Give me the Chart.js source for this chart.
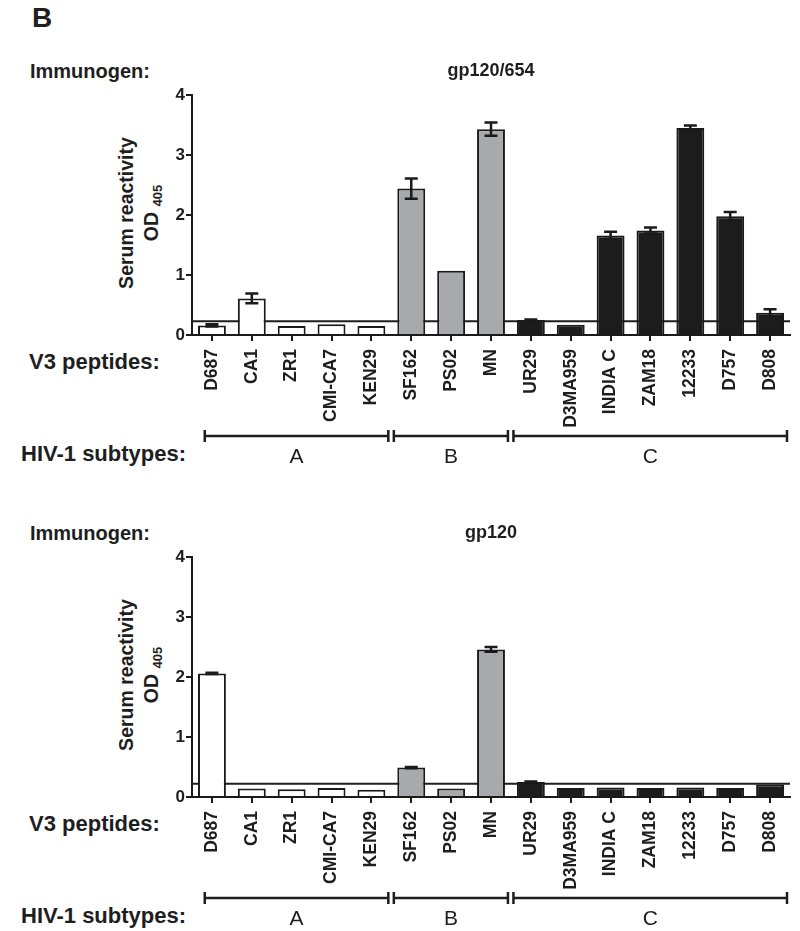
<!DOCTYPE html>
<html><head><meta charset="utf-8">
<script src="https://cdn.jsdelivr.net/npm/chart.js@4/dist/chart.umd.min.js"></script>
<style>
html,body{margin:0;padding:0;background:#fff;}
body{width:800px;height:931px;position:relative;overflow:hidden;font-family:"Liberation Sans",Arial,sans-serif;color:#1e1e1e;}
.lbl{position:absolute;font-weight:bold;line-height:1;white-space:nowrap;transform:translateY(-50%);}
canvas{position:absolute;left:0;}
.ytitle{position:absolute;font-weight:bold;font-size:19.5px;line-height:25px;white-space:nowrap;text-align:center;transform:translate(-50%,-50%) rotate(-90deg);}
.ytitle sub{font-size:13px;vertical-align:baseline;position:relative;top:4px;}
</style></head>
<body>
<div class="lbl" style="left:32px;top:18px;font-size:28px">B</div>

<div class="lbl" style="left:30px;top:71px;font-size:20px">Immunogen:</div>
<div class="ytitle" style="left:140px;top:213px">Serum reactivity<br>OD <sub>405</sub></div>
<div class="lbl" style="left:29px;top:362px;font-size:22px">V3 peptides:</div>
<div class="lbl" style="left:21px;top:454px;font-size:22px">HIV-1 subtypes:</div>
<canvas id="c1" width="800" height="469" style="top:0px"></canvas>

<div class="lbl" style="left:30px;top:533px;font-size:20px">Immunogen:</div>
<div class="ytitle" style="left:140px;top:675px">Serum reactivity<br>OD <sub>405</sub></div>
<div class="lbl" style="left:29px;top:824px;font-size:22px">V3 peptides:</div>
<div class="lbl" style="left:21px;top:916px;font-size:22px">HIV-1 subtypes:</div>
<canvas id="c2" width="800" height="469" style="top:462px"></canvas>

<script>
// ---- data ----
const peptides = ['D687','CA1','ZR1','CMI-CA7','KEN29','SF162','PS02','MN','UR29','D3MA959','INDIA C','ZAM18','12233','D757','D808'];
const subtypes = ['A','A','A','A','A','B','B','B','C','C','C','C','C','C','C'];
const groupLabels = ['A','B','C'];
const titles = ['gp120/654','gp120'];
const gp120_654 = [0.16,0.61,0.15,0.18,0.15,2.44,1.07,3.43,0.25,0.17,1.66,1.74,3.45,1.98,0.37];
const gp120_654_err = [0.02,0.08,0,0,0,0.17,0,0.11,0.01,0,0.06,0.05,0.04,0.07,0.06];
const gp120 = [2.06,0.14,0.13,0.15,0.12,0.49,0.14,2.46,0.25,0.15,0.16,0.15,0.16,0.15,0.21];
const gp120_err = [0.01,0,0,0,0,0.01,0,0.04,0.01,0,0,0,0,0,0];
const cutoffs = [0.23,0.22];
const yMin = 0, yMax = 4, yStep = 1;

// ---- styles ----
const FONT = '"Liberation Sans", Arial, sans-serif';
const INK = '#1e1e1e';
const fillBySubtype = {A:'#ffffff', B:'#a8a9ad', C:'#1c1c1c'};

function makePanel(id, title, values, errs, cutoff){
  const cutoffPlugin = {
    id:'cutoff',
    beforeDatasetsDraw(chart){
      const {ctx, chartArea:a, scales:{y}} = chart;
      const py = y.getPixelForValue(cutoff);
      ctx.save(); ctx.strokeStyle=INK; ctx.lineWidth=2;
      ctx.beginPath(); ctx.moveTo(a.left, py); ctx.lineTo(a.right, py); ctx.stroke();
      ctx.restore();
    }
  };
  const errPlugin = {
    id:'errbars',
    afterDatasetsDraw(chart){
      const {ctx, scales:{y}} = chart;
      const meta = chart.getDatasetMeta(0);
      ctx.save(); ctx.strokeStyle='#1a1a1a'; ctx.lineWidth=2.5;
      meta.data.forEach((bar,i)=>{
        const e = errs[i]; if(!e) return;
        const yt = y.getPixelForValue(values[i]+e), yb = y.getPixelForValue(values[i]-e);
        const hw = 6.5;
        ctx.beginPath();
        ctx.moveTo(bar.x, yt); ctx.lineTo(bar.x, yb);
        ctx.moveTo(bar.x-hw, yt); ctx.lineTo(bar.x+hw, yt);
        ctx.moveTo(bar.x-hw, yb); ctx.lineTo(bar.x+hw, yb);
        ctx.stroke();
      });
      ctx.restore();
    }
  };
  const bracketPlugin = {
    id:'brackets',
    afterDraw(chart){
      const {ctx, chartArea:a, scales:{x}} = chart;
      const n = peptides.length;
      const step = (x.getPixelForValue(n-1) - x.getPixelForValue(0)) / (n-1);
      const by = a.bottom + 101;
      ctx.save();
      ctx.strokeStyle=INK; ctx.lineWidth=2.5;
      ctx.fillStyle=INK; ctx.font = '21px ' + FONT;
      ctx.textAlign='center'; ctx.textBaseline='middle';
      groupLabels.forEach(g=>{
        const f = subtypes.indexOf(g), l = subtypes.lastIndexOf(g);
        const left = f===0 ? x.getPixelForValue(f) - step*0.18 : x.getPixelForValue(f) - step/2 + 2.5;
        const right = x.getPixelForValue(l) + step/2 - 3;
        ctx.beginPath();
        ctx.moveTo(left, by); ctx.lineTo(right, by);
        ctx.moveTo(left, by-6); ctx.lineTo(left, by+6);
        ctx.moveTo(right, by-6); ctx.lineTo(right, by+6);
        ctx.stroke();
        ctx.fillText(g, (left+right)/2, by + 21);
      });
      ctx.restore();
    }
  };

  return new Chart(document.getElementById(id), {
    type:'bar',
    data:{
      labels: peptides,
      datasets:[{
        data: values,
        backgroundColor: subtypes.map(s=>fillBySubtype[s]),
        borderColor:'#1a1a1a',
        borderWidth:2,
        barPercentage:0.7,
        categoryPercentage:1.0
      }]
    },
    options:{
      responsive:false,
      animation:false,
      devicePixelRatio:1,
      layout:{padding:{left:0,right:10,top:0,bottom:0}},
      plugins:{
        legend:{display:false},
        tooltip:{enabled:false},
        title:{display:true, text:title, color:INK, fullSize:false,
          font:{family:FONT, size:18, weight:'bold', lineHeight:1.2},
          padding:{top:60,bottom:13.4}}
      },
      scales:{
        x:{
          offset:true,
          grid:{display:true, drawOnChartArea:false, offset:false, tickLength:6, color:'#1a1a1a', lineWidth:2},
          border:{display:true, color:'#1a1a1a', width:2},
          ticks:{autoSkip:false, minRotation:90, maxRotation:90, padding:8, color:INK,
            font:{family:FONT, size:17.5, weight:'bold'}},
          afterFit(s){ s.height = 134; s.paddingLeft = 0; s.paddingRight = 0; }
        },
        y:{
          min:yMin, max:yMax,
          grid:{display:true, drawOnChartArea:false, tickLength:6, color:'#1a1a1a', lineWidth:2},
          border:{display:true, color:'#1a1a1a', width:2},
          ticks:{stepSize:yStep, padding:1, color:INK, font:{family:FONT, size:17, weight:'bold'}},
          afterFit(s){ s.width = 192; }
        }
      }
    },
    plugins:[cutoffPlugin, errPlugin, bracketPlugin]
  });
}

makePanel('c1', titles[0], gp120_654, gp120_654_err, cutoffs[0]);
makePanel('c2', titles[1], gp120, gp120_err, cutoffs[1]);
</script>
</body></html>
